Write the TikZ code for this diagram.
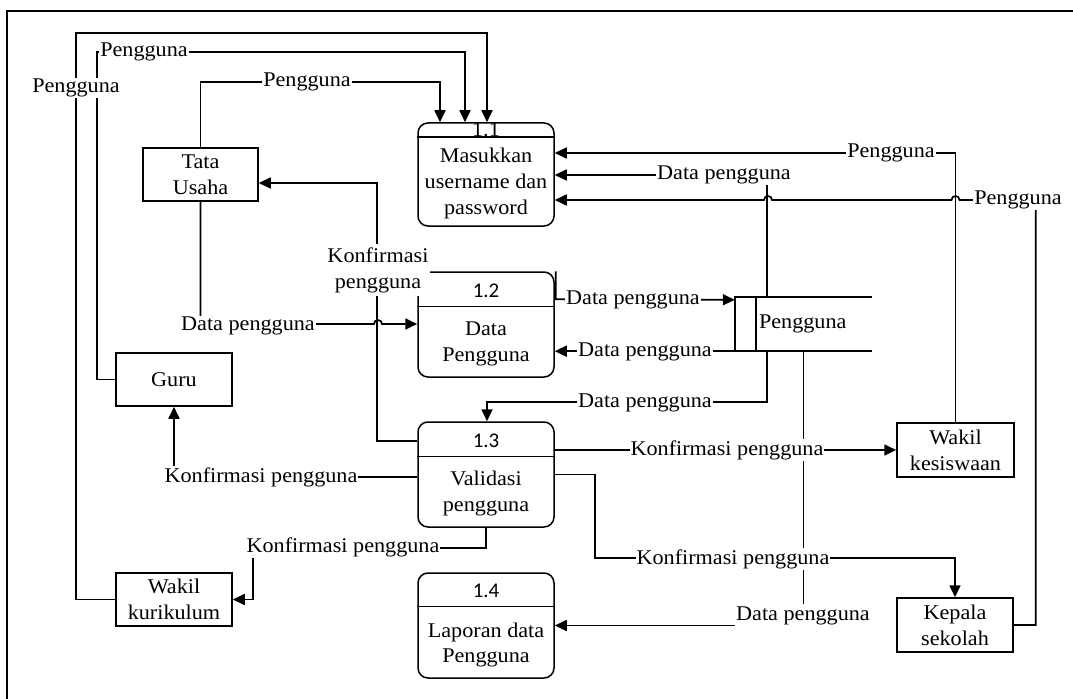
\documentclass[tikz,border=0pt]{standalone}
\usepackage{fontspec}
\setmainfont{Liberation Serif}[FakeStretch=1.06]
\newfontfamily\numfont{Carlito}
\usetikzlibrary{arrows.meta,calc}
\begin{document}
\begin{tikzpicture}[x=1bp,y=-1bp,
  txt/.style={font=\fontsize{21}{26}\selectfont,align=center,inner sep=0},
  lbl/.style={txt,fill=white,inner xsep=1bp,inner ysep=1bp},
  ent/.style={txt,draw,line width=1.5bp,minimum width=116bp,minimum height=53bp},
  proc/.style={draw,rounded corners=10bp,line width=1.5bp,minimum width=136bp,inner sep=0},
  boxline/.style={line width=1.5bp},
  wire/.style={line width=1.7bp},
  flow/.style={wire,-{Triangle[length=12bp,width=11bp]}},
  num/.style={font=\numfont\fontsize{21}{26}\selectfont,inner sep=0}
]
\useasboundingbox (0,0) rectangle (1073,699);
% frame
\draw[line width=2bp] (6.5,699) -- (6.5,11) -- (1073,11);

% processes
\node[proc,minimum height=103bp] (p11) at (486,174.5) {};
\node[proc,minimum height=105bp] (p12) at (486,324.5) {};
\node[proc,minimum height=105bp] (p13) at (486,474.5) {};
\node[proc,minimum height=105bp] (p14) at (486,625.5) {};
\node[txt,anchor=base] (n11) at (486,137) {1.1};
\draw[boxline] ($(p11.north west)+(0,15)$) -- ($(p11.north east)+(0,15)$);
\draw[boxline] ($(p12.north west)+(0,35)$) -- ($(p12.north east)+(0,35)$);
\draw[boxline] ($(p13.north west)+(0,35)$) -- ($(p13.north east)+(0,35)$);
\draw[boxline] ($(p14.north west)+(0,34)$) -- ($(p14.north east)+(0,34)$);
\node[num] (n12) at (486,291) {1.2};
\node[num] (n13) at (486,441) {1.3};
\node[num] (n14) at (486,591) {1.4};
\node[txt] (t11) at (486,183.5) {Masukkan\\username dan\\password};
\node[txt] (t12) at (486,343.5) {Data\\Pengguna};
\node[txt] (t13) at (486,493.5) {Validasi\\pengguna};
\node[txt] (t14) at (486,645) {Laporan data\\Pengguna};

% entities
\node[ent,minimum width=115bp] (tata) at (200.5,174.5) {Tata\\Usaha};
\node[ent] (guru) at (174,379.5) {Guru};
\node[ent] (kurik) at (174,599.5) {Wakil\\kurikulum};
\node[ent,minimum width=117bp,minimum height=54bp] (kesis) at (955.5,450) {Wakil\\kesiswaan};
\node[ent,minimum height=54bp] (kepala) at (955,625) {Kepala\\sekolah};

% data store
\node[minimum width=137bp,minimum height=54bp,inner sep=0] (store) at (803.5,324) {};
\draw[boxline] (store.north east) -- (store.north west) -- (store.south west) -- (store.south east);
\draw[boxline] ($(store.north west)+(21,0)$) -- ($(store.south west)+(21,0)$);
\node[txt,anchor=west] (tstore) at ($(store.west)+(24,0)$) {Pengguna};

% connectors
\coordinate (w1) at (76,33);
\coordinate (w2) at (97,52);
\coordinate (w3) at (440,82);
\draw[flow] (kurik.west) -| (w1) -| ($(p11.north)+(1,0)$);
\draw[flow] (guru.west) -| (w2) -| ($(p11.north)+(-21,0)$);
\draw[flow] (tata.north) |- (w3) -- (w3 |- p11.north);
\draw[flow] (kesis.north) |- ($(p11.east)+(0,-21.5)$);
\draw[flow] ($(store.north west)+(32.5,0)$) |- ($(p11.east)+(0,0.5)$);
\draw[flow] (kepala.east) -- ++(22,0) |- (959.5,200)
  arc[start angle=0,end angle=-180,radius=4] -- (772,200)
  arc[start angle=0,end angle=-180,radius=4] -- ($(p11.east)+(0,25.5)$);
\draw[flow] ($(p12.north east)+(1,0)$) -- ++(0,28) -- ($(store.north west)+(0,3)$);
\draw[flow] (store.south west) -- (store.south west -| p12.east);
\draw[flow] ($(store.south west)+(32.5,0)$) |- ($(p13.north)+(1,-19)$) -- ($(p13.north)+(1,0)$);
\draw[flow] (store.south) |- (p14.east);
\draw[flow] (p13.east |- kesis.west) -- (kesis.west);
\draw[flow] (p13.east) -- ++(40,0) |- ($(kepala.north)+(0,-39)$) -- (kepala.north);
\draw[flow] (p13.south) -- ++(0,20) -| ($(kurik.east)+(20,0)$) -- (kurik.east);
\draw[flow] ($(p13.west)+(0,2.5)$) -| (guru.south);
\draw[flow] ($(p13.north west)+(0,20)$) -- ++(-40,0) |- ($(tata.east)+(0,8.5)$);
\draw[flow] (tata.south) |- (374,324)
  arc[start angle=-180,end angle=0,radius=4] -- (p12.west |- 0,324);

% labels
\node[lbl] (l1) at (76,88) {Pengguna};
\node[lbl] (l2) at (144,52) {Pengguna};
\node[lbl] (l3) at (307,82) {Pengguna};
\node[lbl] (l4) at (891,153) {Pengguna};
\node[lbl] (l5) at (724,175) {Data pengguna};
\node[lbl] (l6) at (1018,200) {Pengguna};
\node[lbl] (l7) at (633,300) {Data pengguna};
\node[lbl] (l8) at (645,352) {Data pengguna};
\node[lbl] (l9) at (645,403) {Data pengguna};
\node[lbl,inner ysep=2bp,anchor=base] (l10) at (803,620) {Data pengguna};
\node[lbl] (l11) at (727,450) {Konfirmasi pengguna};
\node[lbl] (l12) at (733,559) {Konfirmasi pengguna};
\node[lbl] (l13) at (343,547) {Konfirmasi pengguna};
\node[lbl] (l14) at (261,477) {Konfirmasi pengguna};
\node[lbl,inner ysep=3bp] (l15) at (378,270) {Konfirmasi\\pengguna};
\node[lbl] (l16) at (248,326) {Data pengguna};
\end{tikzpicture}
\end{document}
